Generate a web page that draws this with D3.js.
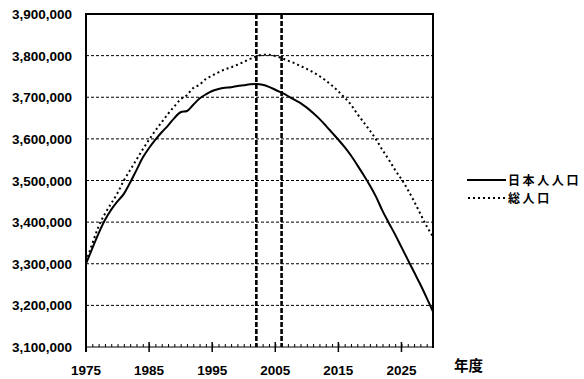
<!DOCTYPE html>
<html><head><meta charset="utf-8">
<script src="https://cdn.jsdelivr.net/npm/d3@7/dist/d3.min.js"></script>
<style>body{margin:0;background:#fff}svg{display:block}</style>
</head><body><svg id="c" width="584" height="379"></svg>
<script>
const years = d3.range(1975, 2031);
const japanese = [3300,3337,3373,3405,3430,3450,3468,3495,3525,3555,3578,3598,3616,3632,3650,3664,3667,3682,3697,3707,3715,3720,3723,3724,3727,3729,3731,3732,3730,3725,3718,3711,3703,3694,3686,3675,3662,3648,3632,3615,3598,3580,3560,3537,3513,3488,3460,3427,3398,3370,3340,3310,3280,3250,3218,3185].map(v=>v*1000);
const total = [3305,3348,3390,3420,3445,3470,3500,3525,3550,3575,3598,3620,3640,3660,3678,3695,3705,3722,3730,3744,3752,3760,3767,3772,3778,3785,3792,3798,3802,3802,3799,3794,3788,3782,3775,3768,3760,3751,3740,3728,3714,3699,3682,3660,3640,3620,3598,3573,3550,3525,3503,3478,3450,3420,3390,3365].map(v=>v*1000);
const yTicks = [3100000,3200000,3300000,3400000,3500000,3600000,3700000,3800000,3900000];
const xTickLabels = [1975,1985,1995,2005,2015,2025];
const markYears = [2002,2006];
const seriesNames = ["日本人人口","総人口"];
const xAxisTitle = "年度";

const svg = d3.select("#c");
const L=86,R=433,T=14,B=347;
const x = d3.scaleLinear().domain([1975,2030]).range([L,R]);
const y = d3.scaleLinear().domain([3100000,3900000]).range([B,T]);
const font = "'Liberation Sans', Arial, sans-serif";
const cjk = "'Noto Sans CJK JP', sans-serif";

// gridlines
svg.append("g").selectAll("line").data(yTicks.slice(1,-1)).join("line")
  .attr("x1",L).attr("x2",R).attr("y1",d=>y(d)).attr("y2",d=>y(d))
  .attr("stroke","#000").attr("stroke-width",1).attr("stroke-dasharray","3,2");

// vertical dashed markers
svg.append("g").selectAll("line").data(markYears).join("line")
  .attr("x1",d=>x(d)).attr("x2",d=>x(d)).attr("y1",T).attr("y2",B)
  .attr("stroke","#000").attr("stroke-width",2.6).attr("stroke-dasharray","5,2");

// frame: top, left, right
svg.append("line").attr("x1",L).attr("x2",R).attr("y1",T).attr("y2",T).attr("stroke","#000").attr("stroke-width",2);
svg.append("line").attr("x1",L).attr("x2",L).attr("y1",T-1).attr("y2",B+5).attr("stroke","#000").attr("stroke-width",2);
svg.append("line").attr("x1",R).attr("x2",R).attr("y1",T-1).attr("y2",B+1).attr("stroke","#000").attr("stroke-width",2);
// bottom axis
svg.append("line").attr("x1",L).attr("x2",R).attr("y1",B).attr("y2",B).attr("stroke","#000").attr("stroke-width",1);
const gx = svg.append("g").attr("transform",`translate(0,${B})`)
  .call(d3.axisTop(x).tickValues(years).tickSize(3).tickFormat(""));
gx.select(".domain").remove();
gx.selectAll("line").attr("stroke-width",1);
svg.append("g").selectAll("line").data(xTickLabels.slice(1)).join("line")
  .attr("x1",d=>x(d)).attr("x2",d=>x(d)).attr("y1",B-5).attr("y2",B+5)
  .attr("stroke","#000").attr("stroke-width",1.5);

// x labels
svg.append("g").selectAll("text").data(xTickLabels).join("text")
  .attr("x",d=>x(d)).attr("y",375).attr("text-anchor","middle")
  .attr("font-family",font).attr("font-weight","bold").attr("font-size",13.5).text(d=>d);
// y labels
svg.append("g").selectAll("text").data(yTicks).join("text")
  .attr("x",72).attr("y",d=>y(d)+5).attr("text-anchor","end")
  .attr("font-family",font).attr("font-weight","bold").attr("font-size",13.5)
  .text(d=>d3.format(",")(d));

// lines
const line = d3.line().x((d,i)=>x(years[i])).y(d=>y(d)).curve(d3.curveMonotoneX);
svg.append("path").datum(total).attr("d",line).attr("fill","none")
  .attr("stroke","#000").attr("stroke-width",2).attr("stroke-dasharray","2,3");
svg.append("path").datum(japanese).attr("d",line).attr("fill","none")
  .attr("stroke","#000").attr("stroke-width",2);

// legend
const lg = svg.append("g");
lg.append("line").attr("x1",467).attr("x2",506).attr("y1",180).attr("y2",180).attr("stroke","#000").attr("stroke-width",2);
lg.append("line").attr("x1",468).attr("x2",506).attr("y1",198).attr("y2",198).attr("stroke","#000").attr("stroke-width",2).attr("stroke-dasharray","2,3");
lg.selectAll("text").data(seriesNames).join("text")
  .attr("x",508).attr("y",(d,i)=>184.5+i*18)
  .attr("font-family",cjk).attr("font-weight","bold").attr("font-size",12)
  .attr("letter-spacing",2.6).text(d=>d);
svg.append("text").attr("x",454).attr("y",371).attr("font-family",cjk).attr("font-weight","bold").attr("font-size",14.5).text(xAxisTitle);
</script></body></html>
